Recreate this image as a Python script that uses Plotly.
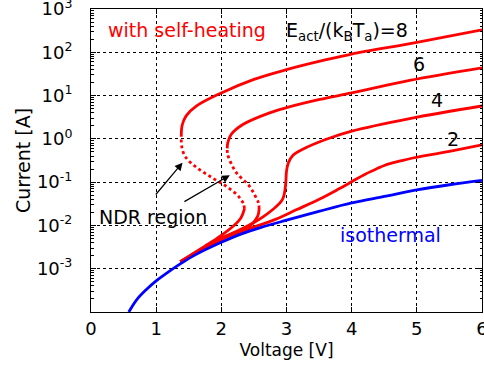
import plotly.graph_objects as go

# ---------------- data (Voltage [V], Current [A]) ----------------
# Eact/(kB Ta) = 8 : lower branch, NDR (dotted) branch, upper branch
v8_low = [1.37, 1.6, 1.8, 2.0, 2.18, 2.30, 2.355]
i8_low = [1.45e-3, 2.4e-3, 3.72e-3, 5.89e-3, 9.55e-3, 0.0148, 0.024]
v8_ndr = [2.355, 2.34, 2.30, 2.24, 2.08, 1.85, 1.62, 1.45, 1.395, 1.385]
i8_ndr = [0.024, 0.0316, 0.0398, 0.0513, 0.0794, 0.129, 0.219, 0.380, 0.631, 1.12]
v8_up = [1.385, 1.40, 1.46, 1.62, 2.0, 2.49, 3.0, 3.61, 4.0, 5.0, 6.0]
i8_up = [1.12, 2.09, 3.39, 5.75, 11.5, 23.4, 39.8, 67.6, 91.2, 170, 331]

# Eact/(kB Ta) = 6
v6_low = [1.37, 1.6, 1.8, 2.03, 2.27, 2.47, 2.56, 2.58]
i6_low = [1.45e-3, 2.34e-3, 3.55e-3, 5.37e-3, 7.08e-3, 0.0107, 0.0166, 0.024]
v6_ndr = [2.58, 2.57, 2.52, 2.43, 2.23, 2.13, 2.095, 2.09]
i6_ndr = [0.024, 0.0331, 0.0479, 0.0813, 0.166, 0.316, 0.457, 0.603]
v6_up = [2.09, 2.10, 2.15, 2.33, 2.74, 3.0, 3.51, 4.0, 4.89, 6.0]
i6_up = [0.603, 0.832, 1.26, 2.14, 3.98, 5.25, 8.13, 11.5, 22.4, 43.7]

# Eact/(kB Ta) = 4
v4 = [1.37, 1.6, 1.8, 2.0, 2.2, 2.34, 2.5, 2.64, 2.80, 2.90, 2.95, 2.975,
      2.99, 3.0, 3.03, 3.1, 3.25, 3.61, 4.0, 4.89, 6.0]
i4 = [1.45e-3, 2.29e-3, 3.39e-3, 5.01e-3, 6.92e-3, 8.71e-3, 0.0117, 0.0158,
      0.024, 0.0331, 0.0437, 0.0631, 0.1, 0.178, 0.282, 0.417, 0.575, 0.977,
      1.51, 2.95, 5.75]

# Eact/(kB Ta) = 2
v2 = [1.37, 1.7, 2.0, 2.32, 2.83, 3.15, 3.51, 3.8, 4.0, 4.2, 4.4, 4.5, 4.6,
      4.75, 4.89, 5.5, 6.0]
i2 = [1.45e-3, 2.69e-3, 4.68e-3, 7.41e-3, 0.0138, 0.0229, 0.0407, 0.0692,
      0.102, 0.151, 0.209, 0.243, 0.272, 0.309, 0.347, 0.513, 0.724]

# isothermal
v_iso = [0.58, 0.7, 0.85, 1.0, 1.2, 1.37, 1.6, 2.0, 2.32, 2.6, 3.0, 3.51,
         4.0, 4.5, 5.0, 5.5, 6.0]
i_iso = [1.0e-4, 1.91e-4, 3.31e-4, 5.25e-4, 8.71e-4, 1.29e-3, 2.09e-3,
         4.07e-3, 6.46e-3, 8.91e-3, 0.0132, 0.0214, 0.0331, 0.0468, 0.0661,
         0.0871, 0.110]

# NDR arrows: (tail V, tail log10 I) -> (head V, head log10 I)
arrow_tail_v = [0.975, 1.41]
arrow_tail_logi = [-1.32, -1.47]
arrow_head_v = [1.405, 2.13]
arrow_head_logi = [-0.55, -0.84]

# axis ticks
x_ticks = [0, 1, 2, 3, 4, 5, 6]
y_tickvals = [1e-3, 1e-2, 1e-1, 1e0, 1e1, 1e2, 1e3]
y_ticktext = ["10<sup>-3</sup>", "10<sup>-2</sup>", "10<sup>-1</sup>",
              "10<sup>0</sup>", "10<sup>1</sup>", "10<sup>2</sup>",
              "10<sup>3</sup>"]
y_minor = [m * 10.0 ** e for e in range(-4, 3) for m in range(2, 10)]

RED = "#ff0000"
BLUE = "#0000ff"
FONT = "DejaVu Sans"

fig = go.Figure()

def add(v, i, color, dash="solid", name=""):
    fig.add_trace(go.Scatter(
        x=v, y=i, mode="lines", name=name, showlegend=False,
        line=dict(color=color, width=2.8, dash=dash, shape="spline", smoothing=1.0),
        hoverinfo="skip"))

add(v8_low, i8_low, RED, name="8 low")
add(v8_ndr, i8_ndr, RED, dash="dot", name="8 NDR")
add(v8_up, i8_up, RED, name="8 up")
add(v6_low, i6_low, RED, name="6 low")
add(v6_ndr, i6_ndr, RED, dash="dot", name="6 NDR")
add(v6_up, i6_up, RED, name="6 up")
add(v4, i4, RED, name="4")
add(v2, i2, RED, name="2")
add(v_iso, i_iso, BLUE, name="isothermal")

ann = []
for tv, tl, hv, hl in zip(arrow_tail_v, arrow_tail_logi, arrow_head_v, arrow_head_logi):
    ann.append(dict(x=hv, y=hl, xref="x", yref="y", ax=tv, ay=tl,
                    axref="x", ayref="y", text="", showarrow=True,
                    arrowhead=2, arrowsize=1.3, arrowwidth=1.2,
                    arrowcolor="black", standoff=0, startstandoff=0))

def label(x, y, text, color="black", size=19):
    ann.append(dict(x=x, y=y, xref="x", yref="y", text=text, showarrow=False,
                    xanchor="center", yanchor="middle",
                    font=dict(family=FONT, size=size, color=color)))

label(1.47, 2.51, "with self-heating", RED)
label(3.93, 2.48, "E<sub>act</sub>/(k<sub>B</sub>T<sub>a</sub>)=8")
label(5.04, 1.72, "6")
label(5.31, 0.89, "4")
label(5.56, -0.01, "2")
label(0.95, -1.81, "NDR region")
label(4.59, -2.21, "isothermal", BLUE)

fig.update_layout(
    width=484, height=367,
    margin=dict(l=91, r=2, t=9, b=55, autoexpand=False),
    paper_bgcolor="white", plot_bgcolor="white",
    font=dict(family=FONT, color="black"),
    annotations=ann,
    xaxis=dict(
        range=[0, 6], tickmode="array", tickvals=x_ticks,
        ticks="inside", ticklen=5, tickwidth=1, tickcolor="black",
        showline=True, linecolor="black", linewidth=1, mirror="ticks",
        showgrid=True, gridcolor="black", griddash="dot", gridwidth=1,
        zeroline=False, tickfont=dict(family=FONT, size=18, color="black"),
        ticklabelstandoff=0, ticklabeloverflow="allow",
        title=dict(text="Voltage [V]", font=dict(family=FONT, size=17, color="black"),
                   standoff=6),
        automargin=False,
    ),
    yaxis=dict(
        type="log", range=[-4, 3], tickmode="array", tickvals=y_tickvals,
        ticktext=y_ticktext,
        ticks="inside", ticklen=5, tickwidth=1, tickcolor="black",
        showline=True, linecolor="black", linewidth=1, mirror="ticks",
        showgrid=True, gridcolor="black", griddash="dot", gridwidth=1,
        zeroline=False, tickfont=dict(family=FONT, size=18, color="black"),
        ticklabelstandoff=14, ticklabeloverflow="allow",
        minor=dict(tickmode="array", tickvals=y_minor, ticks="inside",
                   ticklen=2.5, tickcolor="black", showgrid=False),
        title=dict(text="Current [A]", font=dict(family=FONT, size=19, color="black"),
                   standoff=1),
        automargin=False,
    ),
)

fig.write_html("out.html", config={"displayModeBar": False},
               post_script="document.body.style.margin='0';")
